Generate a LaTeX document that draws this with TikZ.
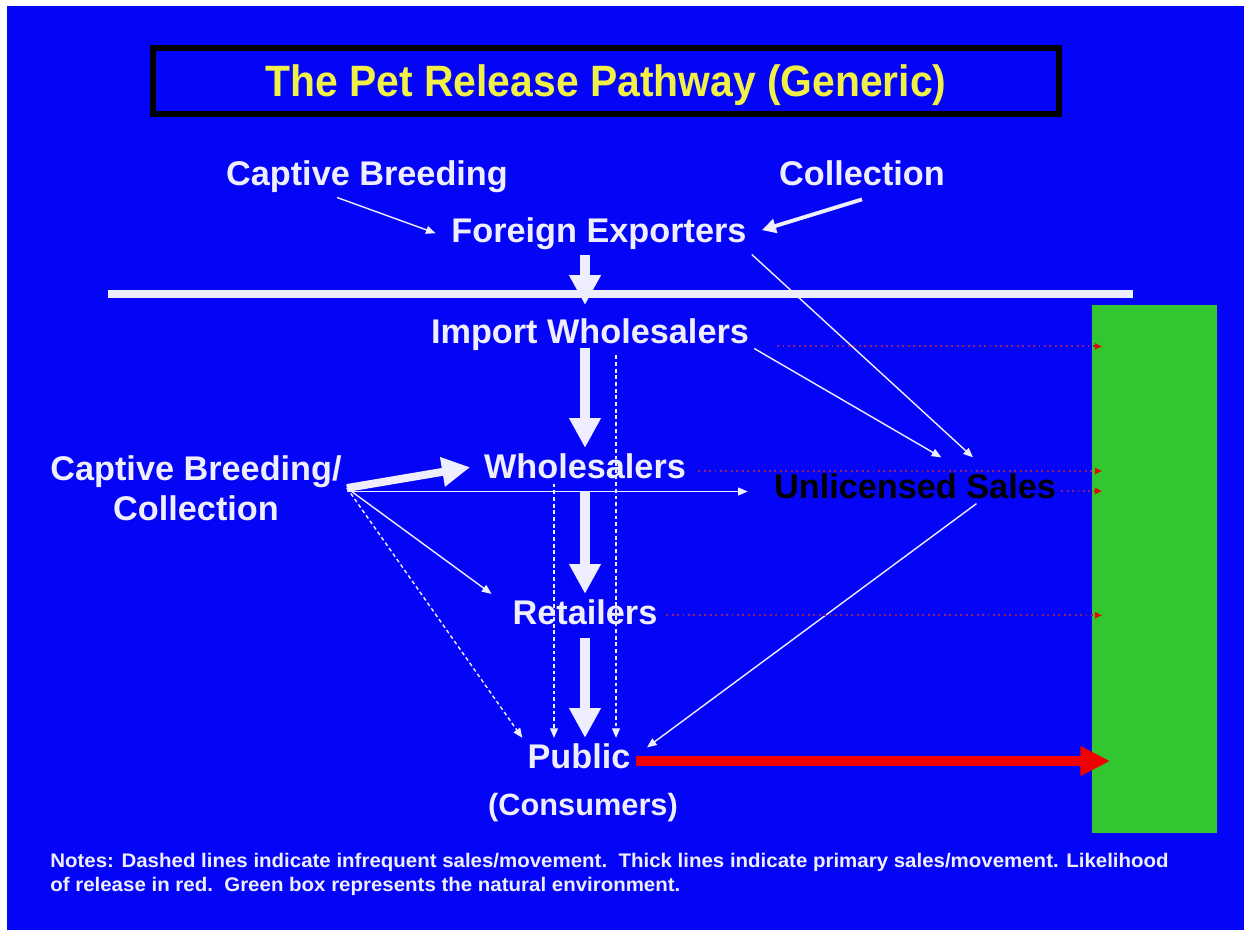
\documentclass[tikz,border=0pt]{standalone}
\usepackage{fontspec}
\setmainfont{Liberation Sans}
\newfontfamily\titlefont{Liberation Sans}[FakeStretch=0.93]
\newfontfamily\notefont{Liberation Sans}[FakeStretch=1.04]
\usetikzlibrary{arrows.meta}

\definecolor{slide}{RGB}{4,4,246}
\definecolor{ink}{RGB}{238,238,255}
\definecolor{titleyellow}{RGB}{240,240,70}
\definecolor{envgreen}{RGB}{50,198,48}
\definecolor{release}{RGB}{240,0,0}
\definecolor{likely}{RGB}{150,30,110}

\tikzset{
  lbl/.style={inner sep=0pt, outer sep=3pt, anchor=base, text=ink,
    font=\fontsize{19.5}{23}\selectfont\bfseries},
  primary/.style={ink, line width=6pt, -{Triangle[length=17pt,width=17pt]}},
  secondary/.style={ink, line width=0.8pt, -{Triangle[length=5.5pt,width=4.5pt]}},
  infrequent/.style={secondary, dash pattern=on 2.2pt off 1.6pt},
  leak/.style={likely, line width=1.1pt, dotted,
    -{Latex[length=4pt,width=4pt,color=release]}}
}

\begin{document}
\begin{tikzpicture}[x=0.02cm, y=-0.02cm]
  \useasboundingbox (0,0) rectangle (1244,930);
  \fill[white] (0,0) rectangle (1244,930);
  \fill[slide] (7,6) rectangle (1244,930);

  % title
  \node[draw=black, line width=3.4pt, minimum width=18.12cm, minimum height=1.32cm,
    text=titleyellow, text depth=0pt,
    font=\titlefont\fontsize{25}{28}\selectfont\bfseries] (title) at (606,81)
    {The Pet Release Pathway (Generic)};

  % border line and the natural environment
  \draw[ink, line width=4.5pt] (108,294) -- (1133,294);
  \node[fill=envgreen, inner sep=0pt, minimum width=2.5cm, minimum height=10.56cm] (env) at (1154.5,569) {};

  \node[lbl] (cb) at (367,185) {Captive Breeding};
  \node[lbl] (col) at (862,185) {Collection};
  \node[lbl] (fe) at (599,242) {Foreign Exporters};
  \node[lbl] (iw) at (590,343) {Import Wholesalers};
  \node[lbl] (wh) at (585,478) {Wholesalers};
  \node[lbl, text=black] (us) at (915,498) {Unlicensed Sales};
  \node[lbl] (rt) at (585,624) {Retailers};
  \node[lbl] (pub) at (579,768) {Public};
  \node[lbl, font=\fontsize{17.5}{21}\selectfont\bfseries] (cons) at (583,815) {(Consumers)};
  \node[lbl, anchor=center, align=center] (cbc) at (196,488) {Captive Breeding/\\Collection};

  \coordinate (spine) at (585,0);
  \coordinate (lane1) at (554,0);
  \coordinate (lane2) at (616,0);

  % primary flow
  \draw[primary, shorten >=4.5pt] (fe.south -| spine) -- (iw.north -| spine);
  \draw[primary, shorten <=-4pt] (iw.south -| spine) -- (wh.north -| spine);
  \draw[primary, shorten <=4pt] (wh.south -| spine) -- (rt.north -| spine);
  \draw[primary, shorten <=4.5pt] (rt.south -| spine) -- (pub.north -| spine);
  \draw[primary, line width=4.5pt, -{Triangle[length=16pt,width=16pt]}, shorten >=5pt] (cbc.east) -- (wh.west);

  % sources of the exporters
  \draw[secondary] ([xshift=-17pt]cb.south) -- ([xshift=-6pt]fe.west);
  \draw[secondary, line width=2.2pt, -{Triangle[length=8pt,width=8pt]}, shorten >=6pt] ([yshift=-5pt]col.south) -- (fe.east);

  % thin and dashed lines
  \draw[secondary] (fe.south east) -- ([xshift=33pt,yshift=6pt]us.north);
  \draw[secondary] (iw.-5) -- ([xshift=15pt,yshift=6pt]us.north);
  \draw[secondary, shorten >=12pt] ([yshift=-2pt]cbc.east) -- ([yshift=-2pt]cbc.east -| us.west);
  \draw[secondary] (cbc.east) -- ([xshift=-9pt]rt.north west);
  \draw[secondary, shorten >=8pt] ([xshift=35pt]us.south) -- (pub.east);
  \draw[infrequent] (cbc.east) -- (pub.north west);
  \draw[infrequent] (wh.south -| lane1) -- (pub.north -| lane1);
  \draw[infrequent] (iw.south -| lane2) -- (pub.north -| lane2);

  % release
  \draw[release, line width=5.7pt, -{Triangle[length=17pt,width=16pt]}, shorten >=-10.5pt]
    ([yshift=-3pt]pub.east) -- ([yshift=-3pt]pub.east -| env.west);
  \draw[leak, shorten <=13pt, shorten >=-6pt] ([yshift=-7pt]iw.east) -- ([yshift=-7pt]iw.east -| env.west);
  \draw[leak, shorten <=4pt, shorten >=-6pt] ([yshift=-3pt]wh.east) -- ([yshift=-3pt]wh.east -| env.west);
  \draw[leak, shorten >=-6pt] ([yshift=-3pt]us.east) -- ([yshift=-3pt]us.east -| env.west);
  \draw[leak, shorten <=2pt, shorten >=-6pt] ([yshift=-2pt]rt.east) -- ([yshift=-2pt]rt.east -| env.west);

  \node[anchor=north west, inner sep=0pt, text=ink, align=left,
    font=\notefont\fontsize{11.2}{13.6}\selectfont\bfseries] (notes) at (50,853)
    {Notes: Dashed lines indicate infrequent sales/movement.\ \ Thick lines indicate primary sales/movement. Likelihood\\
     of release in red.\ \ Green box represents the natural environment.};
\end{tikzpicture}
\end{document}
